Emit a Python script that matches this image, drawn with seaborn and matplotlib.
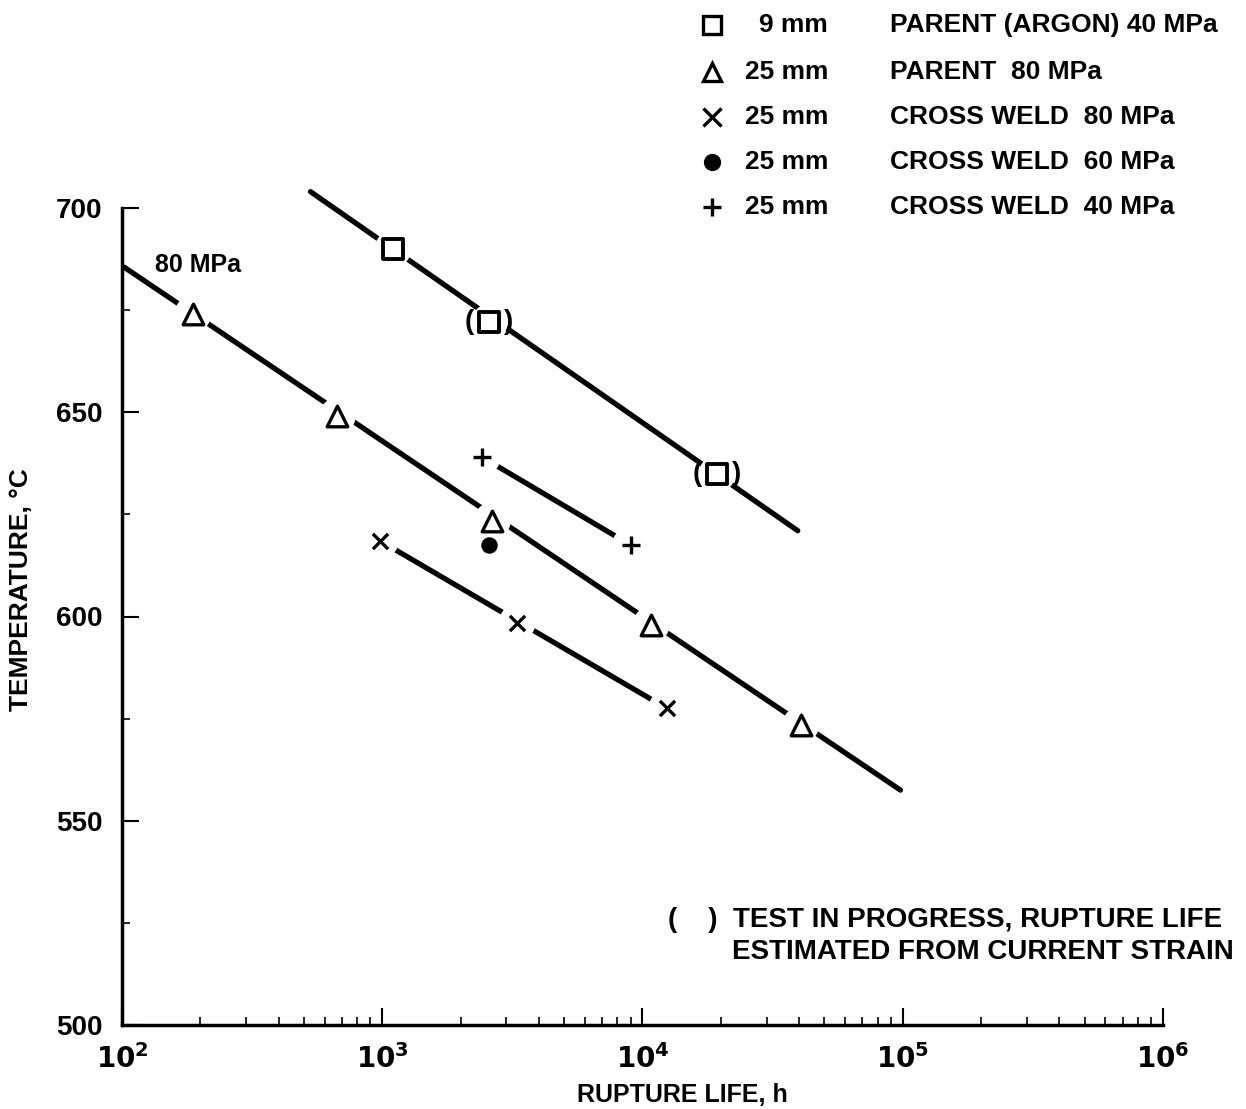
import numpy as np
import pandas as pd
import seaborn as sns
import matplotlib.pyplot as plt
from matplotlib.ticker import LogLocator, FixedLocator, NullFormatter

# data
sq_life = [1100, 2580, 19400]
sq_temp = [690, 672, 635]
sq_line_life = [530, 39500]
sq_line_temp = [704, 621]

tri_life = [187, 671, 2650, 10800, 40600]
tri_temp = [674, 649, 623.5, 598, 573.5]
tri_line_life = [102, 98000]
tri_line_temp = [685.5, 557.5]

x_life = [982, 3300, 12400]
x_temp = [618.5, 598.5, 577.5]

dot_life = [2580]
dot_temp = [617.5]

plus_life = [2420, 9000]
plus_temp = [639, 617.5]

y_ticks = [500, 550, 600, 650, 700]
y_minor = [525, 575, 625, 675]
x_ticks = [1e2, 1e3, 1e4, 1e5, 1e6]

legend_marks = ['s', '^', 'x', 'o', '+']
legend_sizes = ['9 mm', '25 mm', '25 mm', '25 mm', '25 mm']
legend_names = ['PARENT (ARGON) 40 MPa', 'PARENT  80 MPa', 'CROSS WELD  80 MPa',
                'CROSS WELD  60 MPa', 'CROSS WELD  40 MPa']

sns.set_style("ticks")
plt.rcParams['font.family'] = ['Liberation Sans', 'DejaVu Sans']
plt.rcParams['font.weight'] = 'bold'
for k in ['text.color', 'axes.labelcolor', 'xtick.color', 'ytick.color', 'axes.edgecolor']:
    plt.rcParams[k] = 'black'

fig = plt.figure(figsize=(12.46, 11.09), dpi=100)
ax = fig.add_axes([122 / 1246, 1 - 1025 / 1109, (1163 - 122) / 1246, (1025 - 208) / 1109])

lw = 3.8
# fitted lines
for lx, ly in [(sq_line_life, sq_line_temp), (tri_line_life, tri_line_temp),
               ([x_life[0], x_life[-1]], [x_temp[0], x_temp[-1]]), (plus_life, plus_temp)]:
    sns.lineplot(x=lx, y=ly, color='black', lw=lw, ax=ax, zorder=1, clip_on=False)

# white halos to break lines around markers
all_life = sq_life + tri_life + x_life + plus_life
all_temp = sq_temp + tri_temp + x_temp + plus_temp
sns.scatterplot(x=all_life, y=all_temp, marker='o', s=700, color='white', edgecolor='none',
                ax=ax, zorder=2, clip_on=False)

# markers
sns.scatterplot(x=sq_life, y=sq_temp, marker='s', s=200, facecolor='white', edgecolor='black',
                linewidth=2.8, ax=ax, zorder=3)
sns.scatterplot(x=tri_life, y=tri_temp, marker='^', s=220, facecolor='white', edgecolor='black',
                linewidth=2.4, ax=ax, zorder=3)
sns.scatterplot(x=x_life, y=x_temp, marker='x', s=120, color='black', linewidth=2.4, ax=ax, zorder=3)
sns.scatterplot(x=dot_life, y=dot_temp, marker='o', s=120, color='black', edgecolor='black', ax=ax, zorder=3)
sns.scatterplot(x=plus_life, y=plus_temp, marker='+', s=160, color='black', linewidth=2.4, ax=ax, zorder=3)

# parentheses around tests still in progress
for lf, tp in zip(sq_life[1:], sq_temp[1:]):
    ax.text(lf / 1.19, tp, '(', ha='center', va='center', fontsize=20, fontweight='bold', zorder=4)
    ax.text(lf * 1.19, tp, ')', ha='center', va='center', fontsize=20, fontweight='bold', zorder=4)

ax.text(134, 686, '80 MPa', ha='left', va='center', fontsize=18, fontweight='bold')

ax.set_xscale('log')
ax.set_xlim(1e2, 1e6)
ax.set_ylim(500, 700)
ax.set_yticks(y_ticks)
ax.set_yticks(y_minor, minor=True)
ax.set_yticklabels([str(v) for v in y_ticks], fontsize=20, fontweight='bold')
ax.xaxis.set_major_locator(FixedLocator(x_ticks))
ax.xaxis.set_minor_locator(LogLocator(base=10, subs=np.arange(2, 10)))
ax.xaxis.set_minor_formatter(NullFormatter())
ax.set_xticklabels([r'$\mathbf{10^{%d}}$' % k for k in range(2, 7)], fontsize=20)
ax.tick_params(axis='both', which='major', direction='in', length=12, width=1.5)
ax.tick_params(axis='both', which='minor', direction='in', length=6, width=1.2)
ax.tick_params(axis='y', which='major', pad=14)
ax.tick_params(axis='x', which='major', pad=14)
sns.despine(ax=ax)
for sp in ['left', 'bottom']:
    ax.spines[sp].set_linewidth(2.5)

ax.set_xlabel('RUPTURE LIFE, h', fontsize=18, fontweight='bold')
ax.set_ylabel('TEMPERATURE, °C', fontsize=19, fontweight='bold')
ax.xaxis.set_label_coords((682 - 122) / 1041, -(1083 - 1025) / 817)
ax.yaxis.set_label_coords((33 - 122) / 1041, (1025 - 590) / 817)

# legend block, upper right
rows_y = [25, 72, 117, 162, 207]
for mk, sz, nm, py in zip(legend_marks, legend_sizes, legend_names, rows_y):
    fy = 1 - py / 1109
    filled = mk in ('x', 'o', '+')
    fig.lines.append(plt.Line2D([712 / 1246], [fy], marker=mk, markersize=13 if mk != 'o' else 10,
                                markerfacecolor='black' if filled else 'white',
                                markeredgecolor='black', markeredgewidth=2.4,
                                linestyle='none', transform=fig.transFigure))
    fig.text(828 / 1246, fy, sz, ha='right', va='center', fontsize=19, fontweight='bold')
    fig.text(890 / 1246, fy, nm, ha='left', va='center', fontsize=19, fontweight='bold')

fig.text(668 / 1246, 1 - 920 / 1109, '(    )  TEST IN PROGRESS, RUPTURE LIFE', ha='left', va='center',
         fontsize=20, fontweight='bold')
fig.text(732 / 1246, 1 - 952 / 1109, 'ESTIMATED FROM CURRENT STRAIN', ha='left', va='center',
         fontsize=20, fontweight='bold')

fig.savefig('out.png', dpi=100)
